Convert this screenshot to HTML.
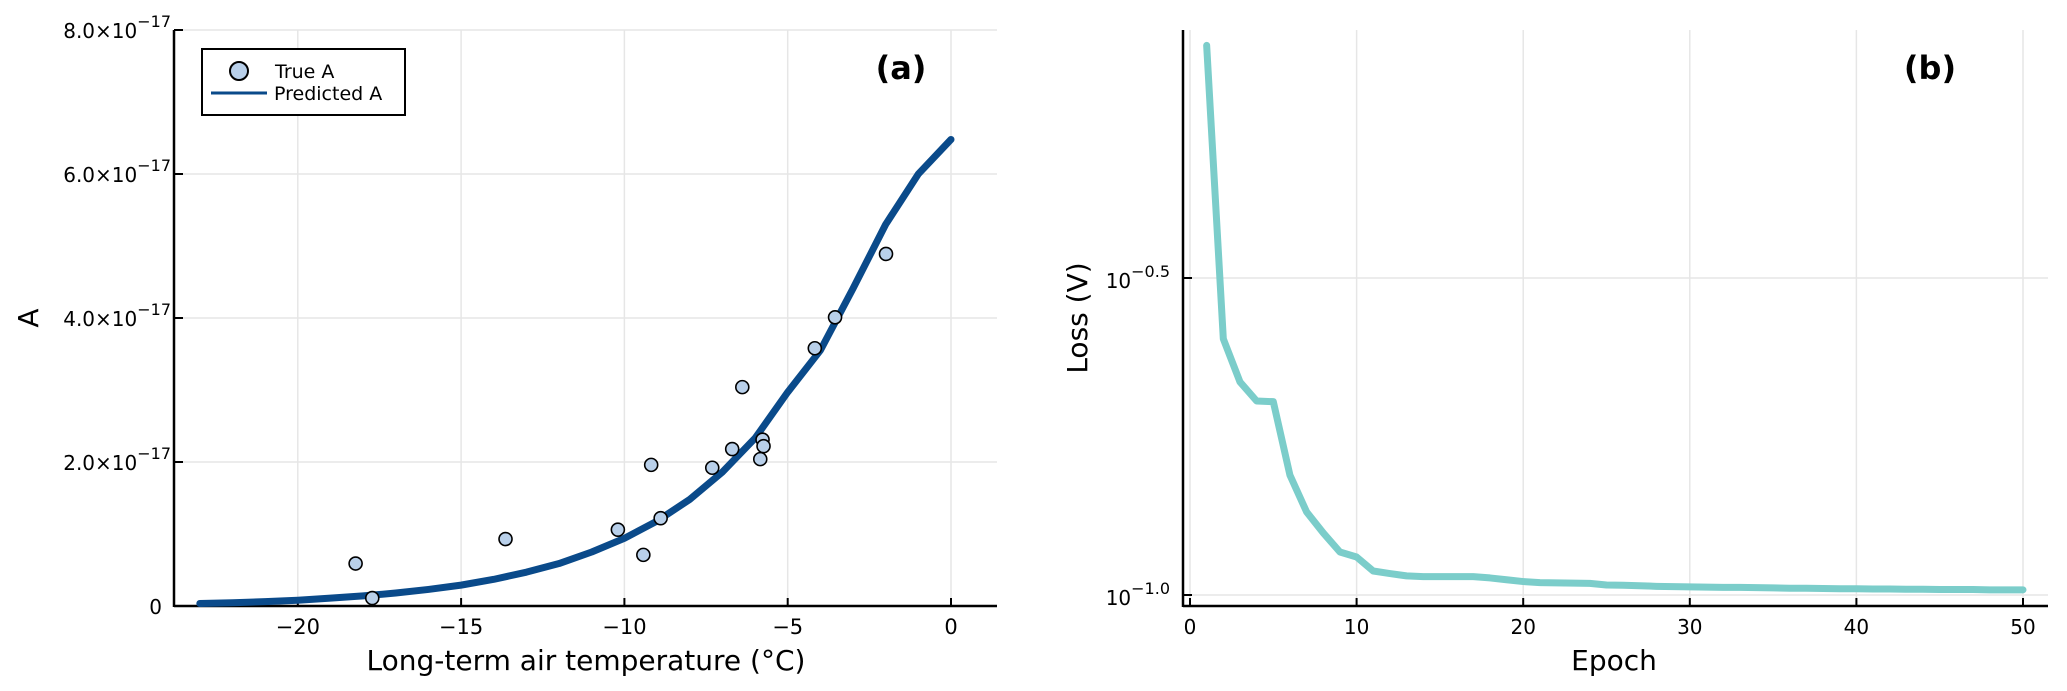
<!DOCTYPE html>
<html><head><meta charset="utf-8"><style>
body{margin:0;background:#fff}
svg{display:block;font-family:"DejaVu Sans","Liberation Sans",sans-serif}
</style></head><body>
<svg id="fig" width="2067" height="691" viewBox="0 0 2067 691" xmlns="http://www.w3.org/2000/svg">
<g id="pa"></g>
<g id="pb"></g>
</svg>
<script>
// Panel (a) data
const trueX = [-18.23,-17.72,-13.64,-10.20,-9.42,-9.18,-8.89,-7.31,-6.70,-6.39,-5.84,-5.77,-5.74,-4.17,-3.55,-1.99];
const trueA = [0.59,0.11,0.93,1.06,0.71,1.96,1.22,1.92,2.18,3.04,2.04,2.31,2.22,3.58,4.01,4.89]; // x1e-17
const predX = [-23,-22,-21,-20,-19,-18,-17,-16,-15,-14,-13,-12,-11,-10,-9,-8,-7,-6,-5,-4,-3,-2,-1,0];
const predA = [0.035,0.045,0.06,0.08,0.11,0.14,0.18,0.23,0.29,0.37,0.47,0.59,0.75,0.94,1.18,1.48,1.86,2.33,2.97,3.55,4.41,5.30,6.0,6.48];
const aXTicks = [-20,-15,-10,-5,0];
const aYTicks = [0,2,4,6,8];
const aYTickLabels = ["0","2.0×10","4.0×10","6.0×10","8.0×10"];
// Panel (b) data
const epochs = [1,2,3,4,5,6,7,8,9,10,11,12,13,14,15,16,17,18,19,20,21,22,23,24,25,26,27,28,29,30,31,32,33,34,35,36,37,38,39,40,41,42,43,44,45,46,47,48,49,50];
const loss = [0.736,0.2535,0.2168,0.2023,0.2018,0.1545,0.1352,0.1253,0.1169,0.1148,0.1091,0.1081,0.1072,0.1069,0.1069,0.1069,0.1069,0.1064,0.1057,0.1050,0.1046,0.1045,0.1044,0.1043,0.1037,0.1036,0.1034,0.1032,0.1031,0.1030,0.1029,0.1028,0.1028,0.1027,0.1026,0.1025,0.1025,0.1024,0.1023,0.1023,0.1022,0.1022,0.1021,0.1021,0.1020,0.1020,0.1020,0.1019,0.1019,0.1019];
const bXTicks = [0,10,20,30,40,50];
const bYTicks = [-0.5,-1.0];
const bYTickLabels = ["−0.5","−1.0"];

const NS="http://www.w3.org/2000/svg";
function mk(parent,tag,attrs,text){const e=document.createElementNS(NS,tag);for(const k in attrs)e.setAttribute(k,attrs[k]);if(text!==undefined)e.textContent=text;parent.appendChild(e);return e;}

// ---------- Panel A ----------
const pa=document.getElementById('pa');
const ax=v=>951+(v)*32.66;
const ay=v=>606-v*72;
const AL=174,AR=997,AT=30,AB=606;
aXTicks.forEach(t=>{const l=mk(pa,'line',{x1:ax(t),x2:ax(t),y1:AT,y2:AB,stroke:'#e6e6e6','stroke-width':1.5});

});
aYTicks.forEach(t=>{const l=mk(pa,'line',{x1:AL,x2:AR,y1:ay(t),y2:ay(t),stroke:'#e6e6e6','stroke-width':1.5});

});
let e;
e=mk(pa,'line',{x1:AL,x2:AL,y1:AT,y2:AB+1,stroke:'#000','stroke-width':2.5});


e=mk(pa,'line',{x1:AL,x2:AR,y1:AB,y2:AB,stroke:'#000','stroke-width':2.5});


aXTicks.forEach(t=>{mk(pa,'line',{x1:ax(t),x2:ax(t),y1:AB,y2:AB-8,stroke:'#000','stroke-width':2});
const tx=mk(pa,'text',{x:ax(t),y:634,'font-size':21,'text-anchor':'middle'},t<0?'−'+(-t):String(t));

});
aYTicks.forEach((t,i)=>{mk(pa,'line',{x1:AL,x2:AL+9,y1:ay(t),y2:ay(t),stroke:'#000','stroke-width':2});
const tx=mk(pa,'text',{x:t===0?162:171,y:ay(t)+8,'font-size':20,'text-anchor':'end'});


if(t===0){tx.textContent='0';}else{mk(tx,'tspan',{},aYTickLabels[i]);mk(tx,'tspan',{dy:-11,'font-size':16},'−17');}});
const pl=mk(pa,'polyline',{points:predX.map((x,i)=>ax(x)+','+ay(predA[i])).join(' '),fill:'none',stroke:'#0a4a8a','stroke-width':7,'stroke-linejoin':'round','stroke-linecap':'round'});


trueX.forEach((x,i)=>{const c=mk(pa,'circle',{cx:ax(x),cy:ay(trueA[i]),r:6.5,fill:'#b9d0ea',stroke:'#000','stroke-width':1.6});

});
const lg=mk(pa,'g',{});


mk(lg,'rect',{x:202,y:49,width:203,height:66,fill:'#fff',stroke:'#000','stroke-width':2});
const le1=mk(lg,'g',{});


mk(le1,'circle',{cx:239,cy:71,r:9,fill:'#b9d0ea',stroke:'#000','stroke-width':2});
mk(le1,'text',{x:275,y:78,'font-size':19},'True A');
const le2=mk(lg,'g',{});


mk(le2,'line',{x1:211,x2:267,y1:93,y2:93,stroke:'#0a4a8a','stroke-width':3});
mk(le2,'text',{x:274,y:100,'font-size':19},'Predicted A');
e=mk(pa,'text',{x:901,y:79,'font-size':32,'font-weight':'bold','text-anchor':'middle'},'(a)');


e=mk(pa,'text',{x:586,y:670,'font-size':28,'text-anchor':'middle'},'Long-term air temperature (°C)');


e=mk(pa,'text',{x:38,y:318,'font-size':28,'text-anchor':'middle',transform:'rotate(-90 38 318)'},'A');



// ---------- Panel B ----------
const pb=document.getElementById('pb');
const bx=v=>1190+v*16.66;
const by=v=>278-(Math.log10(v)+0.5)*634;
const byl=l=>278-(l+0.5)*634;
const BL=1183,BR=2048,BT=30,BB=606;
bXTicks.forEach(t=>{const l=mk(pb,'line',{x1:bx(t),x2:bx(t),y1:BT,y2:BB,stroke:'#e6e6e6','stroke-width':1.5});

});
bYTicks.forEach(t=>{const l=mk(pb,'line',{x1:BL,x2:BR,y1:byl(t),y2:byl(t),stroke:'#e6e6e6','stroke-width':1.5});

});
e=mk(pb,'line',{x1:BL,x2:BL,y1:BT,y2:BB+1,stroke:'#000','stroke-width':2.5});


e=mk(pb,'line',{x1:BL,x2:BR,y1:BB,y2:BB,stroke:'#000','stroke-width':2.5});


bXTicks.forEach(t=>{mk(pb,'line',{x1:bx(t),x2:bx(t),y1:BB,y2:BB-8,stroke:'#000','stroke-width':2});
const tx=mk(pb,'text',{x:bx(t),y:634,'font-size':20,'text-anchor':'middle'},String(t));

});
bYTicks.forEach((t,i)=>{mk(pb,'line',{x1:BL,x2:BL+9,y1:byl(t),y2:byl(t),stroke:'#000','stroke-width':2});
const tx=mk(pb,'text',{x:1170,y:byl(t)+10,'font-size':20,'text-anchor':'end'});


mk(tx,'tspan',{},'10');mk(tx,'tspan',{dy:-11,'font-size':16},bYTickLabels[i]);});
const ll=mk(pb,'polyline',{points:epochs.map((x,i)=>bx(x)+','+by(loss[i])).join(' '),fill:'none',stroke:'#7bcdca','stroke-width':7,'stroke-linejoin':'round','stroke-linecap':'round'});


e=mk(pb,'text',{x:1930,y:79,'font-size':32,'font-weight':'bold','text-anchor':'middle'},'(b)');


e=mk(pb,'text',{x:1614,y:670,'font-size':28,'text-anchor':'middle'},'Epoch');


e=mk(pb,'text',{x:1087,y:318,'font-size':28,'text-anchor':'middle',transform:'rotate(-90 1087 318)'},'Loss (V)');


</script>
</body></html>
